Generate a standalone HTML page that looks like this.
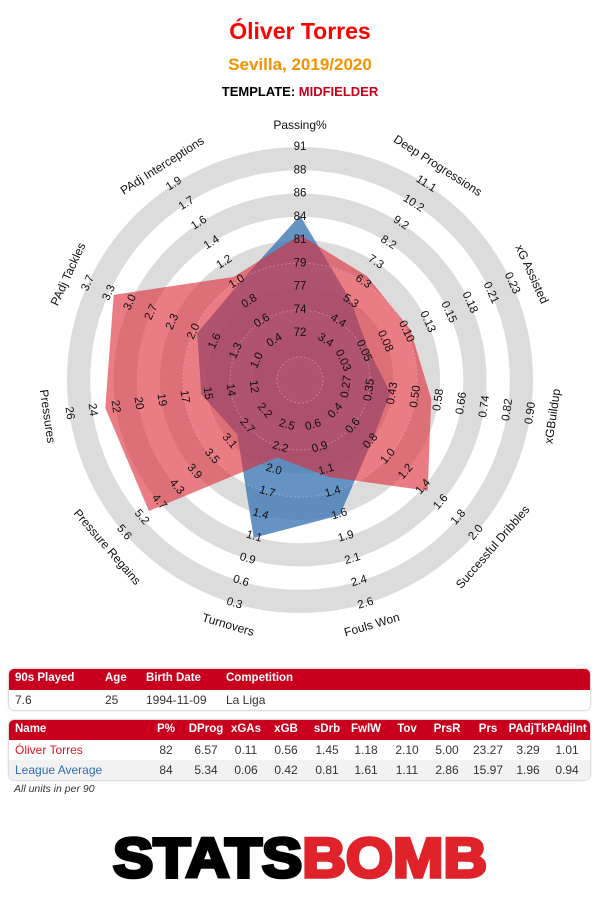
<!DOCTYPE html>
<html><head><meta charset="utf-8"><style>
body{margin:0;width:600px;height:900px;background:#fff;font-family:"Liberation Sans",sans-serif;position:relative;overflow:hidden}
.t{position:absolute;left:0;width:600px;text-align:center;font-weight:bold}
.box{position:absolute;left:9px;width:581px;border-radius:5px;box-shadow:0 0 2px #999;overflow:hidden;background:#fff}
.hd{background:#c8001e;color:#fff;font-weight:bold;font-size:11.5px;height:21px;position:relative}
.rw{height:20px;position:relative;font-size:12px;color:#333}
.c{position:absolute;top:3px;white-space:nowrap}
.m{position:absolute;top:3px;width:50px;margin-left:-25px;text-align:center}
</style></head><body>
<div class="t" style="top:18px;font-size:23px;color:#f00">Óliver Torres</div>
<div class="t" style="top:55px;font-size:17px;color:#f39200">Sevilla, 2019/2020</div>
<div class="t" style="top:84px;font-size:13px;color:#000">TEMPLATE: <span style="color:#c8001e">MIDFIELDER</span></div>

<svg width="600" height="900" style="position:absolute;left:0;top:0" font-family="Liberation Sans, sans-serif">
<g fill="none" stroke="#dcdcdc" stroke-width="23.25">
<circle cx="300" cy="380" r="221.4"/><circle cx="300" cy="380" r="174.9"/><circle cx="300" cy="380" r="128.4"/><circle cx="300" cy="380" r="81.9"/><circle cx="300" cy="380" r="35.4"/>
</g>
<polygon points="300,215.5 350.8,301 368.1,348.9 390.4,393 371.6,442 339.7,515.3 253.7,537.8 237.3,434.4 201.3,394.2 197.2,333.1 238.4,284.1" fill="#3d78b5" fill-opacity="0.8"/>
<polygon points="300,235 366.8,276 410.4,329.6 431.2,398.9 427.7,490.7 328.5,476.9 277.2,457.5 148.9,511 105.3,408 113.7,294.9 233.7,276.9" fill="#dd2c38" fill-opacity="0.62"/>
<g fill="none" stroke="#fff" stroke-opacity="0.25" stroke-dasharray="2,2"><circle cx="300" cy="380" r="23"/><circle cx="300" cy="380" r="70"/><circle cx="300" cy="380" r="117"/></g>

<g font-size="11.5" fill="#111" text-anchor="middle" dominant-baseline="central">
<g transform="rotate(0 300 380)"><text x="300" y="333">72</text><text x="300" y="309.75">74</text><text x="300" y="286.5">77</text><text x="300" y="263.25">79</text><text x="300" y="240">81</text><text x="300" y="216.75">84</text><text x="300" y="193.5">86</text><text x="300" y="170.25">88</text><text x="300" y="147">91</text><text x="300" y="125" font-size="12">Passing%</text></g>
<g transform="rotate(32.73 300 380)"><text x="300" y="333">3.4</text><text x="300" y="309.75">4.4</text><text x="300" y="286.5">5.3</text><text x="300" y="263.25">6.3</text><text x="300" y="240">7.3</text><text x="300" y="216.75">8.2</text><text x="300" y="193.5">9.2</text><text x="300" y="170.25">10.2</text><text x="300" y="147">11.1</text><text x="300" y="125" font-size="12">Deep Progressions</text></g>
<g transform="rotate(65.45 300 380)"><text x="300" y="333">0.03</text><text x="300" y="309.75">0.05</text><text x="300" y="286.5">0.08</text><text x="300" y="263.25">0.10</text><text x="300" y="240">0.13</text><text x="300" y="216.75">0.15</text><text x="300" y="193.5">0.18</text><text x="300" y="170.25">0.21</text><text x="300" y="147">0.23</text><text x="300" y="125" font-size="12">xG Assisted</text></g>
<g transform="rotate(98.18 300 380)"><text x="300" y="333" transform="rotate(180 300 333)">0.27</text><text x="300" y="309.75" transform="rotate(180 300 309.75)">0.35</text><text x="300" y="286.5" transform="rotate(180 300 286.5)">0.43</text><text x="300" y="263.25" transform="rotate(180 300 263.25)">0.50</text><text x="300" y="240" transform="rotate(180 300 240)">0.58</text><text x="300" y="216.75" transform="rotate(180 300 216.75)">0.66</text><text x="300" y="193.5" transform="rotate(180 300 193.5)">0.74</text><text x="300" y="170.25" transform="rotate(180 300 170.25)">0.82</text><text x="300" y="147" transform="rotate(180 300 147)">0.90</text><text x="300" y="125" font-size="12" transform="rotate(180 300 125)">xGBuildup</text></g>
<g transform="rotate(130.91 300 380)"><text x="300" y="333" transform="rotate(180 300 333)">0.4</text><text x="300" y="309.75" transform="rotate(180 300 309.75)">0.6</text><text x="300" y="286.5" transform="rotate(180 300 286.5)">0.8</text><text x="300" y="263.25" transform="rotate(180 300 263.25)">1.0</text><text x="300" y="240" transform="rotate(180 300 240)">1.2</text><text x="300" y="216.75" transform="rotate(180 300 216.75)">1.4</text><text x="300" y="193.5" transform="rotate(180 300 193.5)">1.6</text><text x="300" y="170.25" transform="rotate(180 300 170.25)">1.8</text><text x="300" y="147" transform="rotate(180 300 147)">2.0</text><text x="300" y="125" font-size="12" transform="rotate(180 300 125)">Successful Dribbles</text></g>
<g transform="rotate(163.64 300 380)"><text x="300" y="333" transform="rotate(180 300 333)">0.6</text><text x="300" y="309.75" transform="rotate(180 300 309.75)">0.9</text><text x="300" y="286.5" transform="rotate(180 300 286.5)">1.1</text><text x="300" y="263.25" transform="rotate(180 300 263.25)">1.4</text><text x="300" y="240" transform="rotate(180 300 240)">1.6</text><text x="300" y="216.75" transform="rotate(180 300 216.75)">1.9</text><text x="300" y="193.5" transform="rotate(180 300 193.5)">2.1</text><text x="300" y="170.25" transform="rotate(180 300 170.25)">2.4</text><text x="300" y="147" transform="rotate(180 300 147)">2.6</text><text x="300" y="125" font-size="12" transform="rotate(180 300 125)">Fouls Won</text></g>
<g transform="rotate(196.36 300 380)"><text x="300" y="333" transform="rotate(180 300 333)">2.5</text><text x="300" y="309.75" transform="rotate(180 300 309.75)">2.2</text><text x="300" y="286.5" transform="rotate(180 300 286.5)">2.0</text><text x="300" y="263.25" transform="rotate(180 300 263.25)">1.7</text><text x="300" y="240" transform="rotate(180 300 240)">1.4</text><text x="300" y="216.75" transform="rotate(180 300 216.75)">1.1</text><text x="300" y="193.5" transform="rotate(180 300 193.5)">0.9</text><text x="300" y="170.25" transform="rotate(180 300 170.25)">0.6</text><text x="300" y="147" transform="rotate(180 300 147)">0.3</text><text x="300" y="125" font-size="12" transform="rotate(180 300 125)">Turnovers</text></g>
<g transform="rotate(229.09 300 380)"><text x="300" y="333" transform="rotate(180 300 333)">2.2</text><text x="300" y="309.75" transform="rotate(180 300 309.75)">2.7</text><text x="300" y="286.5" transform="rotate(180 300 286.5)">3.1</text><text x="300" y="263.25" transform="rotate(180 300 263.25)">3.5</text><text x="300" y="240" transform="rotate(180 300 240)">3.9</text><text x="300" y="216.75" transform="rotate(180 300 216.75)">4.3</text><text x="300" y="193.5" transform="rotate(180 300 193.5)">4.7</text><text x="300" y="170.25" transform="rotate(180 300 170.25)">5.2</text><text x="300" y="147" transform="rotate(180 300 147)">5.6</text><text x="300" y="125" font-size="12" transform="rotate(180 300 125)">Pressure Regains</text></g>
<g transform="rotate(261.82 300 380)"><text x="300" y="333" transform="rotate(180 300 333)">12</text><text x="300" y="309.75" transform="rotate(180 300 309.75)">14</text><text x="300" y="286.5" transform="rotate(180 300 286.5)">15</text><text x="300" y="263.25" transform="rotate(180 300 263.25)">17</text><text x="300" y="240" transform="rotate(180 300 240)">19</text><text x="300" y="216.75" transform="rotate(180 300 216.75)">20</text><text x="300" y="193.5" transform="rotate(180 300 193.5)">22</text><text x="300" y="170.25" transform="rotate(180 300 170.25)">24</text><text x="300" y="147" transform="rotate(180 300 147)">26</text><text x="300" y="125" font-size="12" transform="rotate(180 300 125)">Pressures</text></g>
<g transform="rotate(294.55 300 380)"><text x="300" y="333">1.0</text><text x="300" y="309.75">1.3</text><text x="300" y="286.5">1.6</text><text x="300" y="263.25">2.0</text><text x="300" y="240">2.3</text><text x="300" y="216.75">2.7</text><text x="300" y="193.5">3.0</text><text x="300" y="170.25">3.3</text><text x="300" y="147">3.7</text><text x="300" y="125" font-size="12">PAdj Tackles</text></g>
<g transform="rotate(327.27 300 380)"><text x="300" y="333">0.4</text><text x="300" y="309.75">0.6</text><text x="300" y="286.5">0.8</text><text x="300" y="263.25">1.0</text><text x="300" y="240">1.2</text><text x="300" y="216.75">1.4</text><text x="300" y="193.5">1.6</text><text x="300" y="170.25">1.7</text><text x="300" y="147">1.9</text><text x="300" y="125" font-size="12">PAdj Interceptions</text></g>
</g>

<text x="113" y="877" font-size="56" font-weight="bold" stroke-width="3.5" textLength="374" lengthAdjust="spacingAndGlyphs" font-family="Liberation Sans, sans-serif"><tspan fill="#000" stroke="#000">STATS</tspan><tspan fill="#e0232b" stroke="#e0232b">BOMB</tspan></text>
</svg>

<div class="box" style="top:669px;height:41px">
<div class="hd"><span class="c" style="left:6px">90s Played</span><span class="c" style="left:96px">Age</span><span class="c" style="left:137px">Birth Date</span><span class="c" style="left:217px">Competition</span></div>
<div class="rw"><span class="c" style="left:6px">7.6</span><span class="c" style="left:96px">25</span><span class="c" style="left:137px">1994-11-09</span><span class="c" style="left:217px">La Liga</span></div>
</div>

<div class="box" style="top:720px;height:60px">
<div class="hd" style="height:20px"><span class="c" style="left:6px">Name</span><span class="m" style="left:157px">P%</span><span class="m" style="left:197px">DProg</span><span class="m" style="left:237px">xGAs</span><span class="m" style="left:277px">xGB</span><span class="m" style="left:318px">sDrb</span><span class="m" style="left:357px">FwlW</span><span class="m" style="left:398px">Tov</span><span class="m" style="left:438px">PrsR</span><span class="m" style="left:479px">Prs</span><span class="m" style="left:519px">PAdjTk</span><span class="m" style="left:558px">PAdjInt</span></div>
<div class="rw"><span class="c" style="left:6px;color:#e8101f">Óliver Torres</span><span class="m" style="left:157px">82</span><span class="m" style="left:197px">6.57</span><span class="m" style="left:237px">0.11</span><span class="m" style="left:277px">0.56</span><span class="m" style="left:318px">1.45</span><span class="m" style="left:357px">1.18</span><span class="m" style="left:398px">2.10</span><span class="m" style="left:438px">5.00</span><span class="m" style="left:479px">23.27</span><span class="m" style="left:519px">3.29</span><span class="m" style="left:558px">1.01</span></div>
<div class="rw" style="background:#f2f2f2"><span class="c" style="left:6px;color:#2f6db0">League Average</span><span class="m" style="left:157px">84</span><span class="m" style="left:197px">5.34</span><span class="m" style="left:237px">0.06</span><span class="m" style="left:277px">0.42</span><span class="m" style="left:318px">0.81</span><span class="m" style="left:357px">1.61</span><span class="m" style="left:398px">1.11</span><span class="m" style="left:438px">2.86</span><span class="m" style="left:479px">15.97</span><span class="m" style="left:519px">1.96</span><span class="m" style="left:558px">0.94</span></div>
</div>
<div style="position:absolute;left:14px;top:783px;font-size:10.5px;font-style:italic;color:#333">All units in per 90</div>
</body></html>
